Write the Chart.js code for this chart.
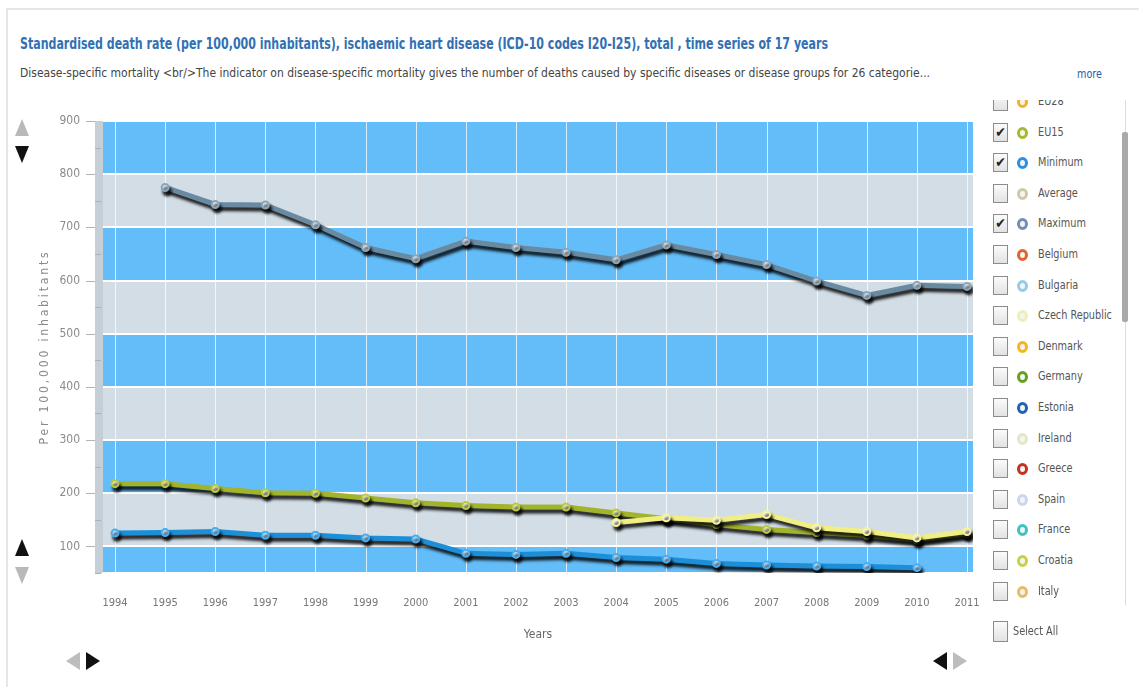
<!DOCTYPE html>
<html>
<head>
<meta charset="utf-8">
<script src="https://cdn.jsdelivr.net/npm/chart.js@4.4.1/dist/chart.umd.min.js"></script>
<style>
  body {
    margin: 0;
    width: 1139px;
    height: 687px;
    position: relative;
    overflow: hidden;
    background: #fff;
    font-family: "Liberation Sans Narrow", "DejaVu Sans Condensed", Arial, sans-serif;
  }
  .frame {
    position: absolute;
    left: 6px;
    top: 8px;
    right: 0;
    bottom: 0;
    border-top: 2px solid #e6e6e6;
    border-left: 2px solid #e6e6e6;
  }
  .fit {
    position: absolute;
    white-space: nowrap;
    transform-origin: 0 50%;
  }
  #title { left: 20px; top: 35px; font-size: 15px; font-weight: bold; color: #3270b4; }
  #subtitle { left: 20px; top: 66px; font-size: 12px; color: #444; }
  #more { left: 1077px; top: 67px; font-size: 12px; color: #2a5db0; }
  canvas { position: absolute; left: 0; top: 100px; }

  .tri { position: absolute; width: 0; height: 0; }
  .up { border-left: 7px solid transparent; border-right: 7px solid transparent; border-bottom: 17px solid; }
  .down { border-left: 7px solid transparent; border-right: 7px solid transparent; border-top: 17px solid; }
  .left { border-top: 9px solid transparent; border-bottom: 9px solid transparent; border-right: 14px solid; }
  .right { border-top: 9px solid transparent; border-bottom: 9px solid transparent; border-left: 14px solid; }

  #legend {
    position: absolute;
    left: 985px;
    top: 100px;
    width: 136px;
    height: 505px;
    overflow: hidden;
  }
  .item { position: absolute; left: 0; height: 30px; width: 136px; }
  .box {
    position: absolute;
    left: 8px;
    top: 6px;
    width: 13px;
    height: 17px;
    border: 1px solid #8c8c8c;
    background: linear-gradient(#fbfbfb, #e2e2e2);
    font-size: 14px;
    line-height: 17px;
    text-align: center;
    color: #222;
  }
  .dot {
    position: absolute;
    left: 32px;
    top: 10px;
    width: 5px;
    height: 6px;
    border-radius: 50%;
    border: 3px solid;
    background: #f4f4f4;
  }
  .name { position: absolute; left: 53px; top: 8px; font-size: 12px; color: #555; white-space: nowrap; transform-origin: 0 50%; transform: scaleX(0.9); }
  #track { position: absolute; left: 1125px; top: 100px; width: 1px; height: 505px; background: #dcdcdc; }
  #thumb { position: absolute; left: 1122px; top: 132px; width: 6px; height: 190px; background: #a9a9a9; border-radius: 2px; }
  #selectAll { position: absolute; left: 985px; top: 616px; width: 140px; height: 30px; }
  #selectAll .box { top: 5px; height: 19px; }
  #selectAll .name { left: 28px; top: 8px; }
</style>
</head>
<body>
<div class="frame"></div>
<div id="title" class="fit" data-w="808">Standardised death rate (per 100,000 inhabitants), ischaemic heart disease (ICD-10 codes I20-I25), total , time series of 17 years</div>
<div id="subtitle" class="fit" data-w="910">Disease-specific mortality &lt;br/&gt;The indicator on disease-specific mortality gives the number of deaths caused by specific diseases or disease groups for 26 categorie...</div>
<div id="more" class="fit" data-w="25">more</div>

<canvas id="deathChart" width="985" height="560"></canvas>

<div class="tri up" style="left:15px;top:119px;color:#b9b9b9"></div>
<div class="tri down" style="left:15px;top:146px;color:#111"></div>
<div class="tri up" style="left:15px;top:539px;color:#111"></div>
<div class="tri down" style="left:15px;top:567px;color:#b9b9b9"></div>
<div class="tri left" style="left:66px;top:652px;color:#bdbdbd"></div>
<div class="tri right" style="left:86px;top:652px;color:#111"></div>
<div class="tri left" style="left:933px;top:652px;color:#111"></div>
<div class="tri right" style="left:953px;top:652px;color:#bdbdbd"></div>

<div id="legend"></div>
<div id="track"></div>
<div id="thumb"></div>
<div id="selectAll"><span class="box"></span><span class="name">Select All</span></div>

<script>
// data
const years = [1994, 1995, 1996, 1997, 1998, 1999, 2000, 2001, 2002,
  2003, 2004, 2005, 2006, 2007, 2008, 2009, 2010, 2011];

const eu28Values = [null, null, null, null, null, null, null, null, null,
  null, 145, 154, 149, 160, 135, 128, 116, 128];
const eu15Values = [218, 218, 209, 201, 200, 191, 182, 177, 174,
  174, 163, 152, 141, 132, 126, 121, 112, 124];
const minimumValues = [125, 126, 128, 121, 121, 116, 114, 87, 85,
  87, 79, 76, 68, 65, 63, 62, 60, null];
const maximumValues = [null, 775, 743, 742, 705, 662, 641, 674, 662,
  653, 639, 667, 649, 630, 599, 572, 591, 589];

const yTicks = [100, 200, 300, 400, 500, 600, 700, 800, 900];
const yMin = 50;
const yMax = 900;
const yTitle = "Per 100,000 inhabitants";

const legendNames = ["EU28", "EU15", "Minimum", "Average", "Maximum", "Belgium",
  "Bulgaria", "Czech Republic", "Denmark", "Germany", "Estonia", "Ireland",
  "Greece", "Spain", "France", "Croatia", "Italy"];
const legendColors = ["#efb22e", "#a6b92c", "#2a8fe0", "#cfc9a8", "#6f8fb3", "#e2622e",
  "#93cbe9", "#eeefb8", "#f3b61e", "#62a21d", "#1f62b4", "#e0e8c6",
  "#c43122", "#cdd3f2", "#3fc1c4", "#c5d244", "#e9bb61"];
const checkedNames = ["EU15", "Minimum", "Maximum"];

const fontFamily = '"Liberation Sans Narrow", "DejaVu Sans Condensed", Arial, sans-serif';
const blueBand = "#63bdf9";
const greyBand = "#d2dde5";

// squeeze header texts to the widths they have in the picture
document.querySelectorAll(".fit").forEach((el) => {
  const w = el.getBoundingClientRect().width;
  el.style.transform = `scaleX(${el.dataset.w / w})`;
});

// legend list, scrolled so the first entry is cut at the top
const legend = document.querySelector("#legend");
legendNames.forEach((name, i) => {
  const item = document.createElement("div");
  item.className = "item";
  item.style.top = (-14 + i * 30.6) + "px";
  item.innerHTML =
    `<span class="box">${checkedNames.includes(name) ? "&#10004;" : ""}</span>` +
    `<span class="dot" style="border-color:${legendColors[i]}"></span>` +
    `<span class="name">${name}</span>`;
  legend.appendChild(item);
});

function points(values) {
  return years.map((yr, i) => ({ x: yr, y: values[i] }));
}

function lineSet(label, values, color, pointFill, pointEdge) {
  return {
    label: label,
    data: points(values),
    borderColor: color,
    borderWidth: 5,
    pointRadius: 3.5,
    pointBackgroundColor: pointFill,
    pointBorderColor: pointEdge,
    pointBorderWidth: 2,
    tension: 0,
    spanGaps: false,
  };
}

// striped background, white grid, left strip
const bandsPlugin = {
  id: "bands",
  beforeDatasetsDraw(chart) {
    const { ctx, chartArea: a, scales: { x, y } } = chart;
    ctx.save();
    ctx.fillStyle = greyBand;
    ctx.fillRect(a.left, a.top, a.right - a.left, a.bottom - a.top);
    ctx.fillStyle = blueBand;
    yTicks.forEach((v) => {
      if ((v / 100) % 2 === 1) {
        const top = y.getPixelForValue(v);
        const bottom = y.getPixelForValue(Math.max(v - 100, yMin));
        ctx.fillRect(a.left, top, a.right - a.left, bottom - top);
      }
    });

    // vertical year lines
    ctx.strokeStyle = "rgba(255,255,255,0.75)";
    ctx.lineWidth = 1;
    years.forEach((yr) => {
      const px = Math.round(x.getPixelForValue(yr)) + 0.5;
      ctx.beginPath();
      ctx.moveTo(px, a.top);
      ctx.lineTo(px, a.bottom);
      ctx.stroke();
    });

    // horizontal lines
    ctx.strokeStyle = "#ffffff";
    ctx.lineWidth = 2;
    yTicks.forEach((v) => {
      const py = Math.round(y.getPixelForValue(v));
      ctx.beginPath();
      ctx.moveTo(a.left, py);
      ctx.lineTo(a.right, py);
      ctx.stroke();
    });
    ctx.beginPath();
    ctx.moveTo(a.left, a.bottom);
    ctx.lineTo(a.right, a.bottom);
    ctx.stroke();

    // grey strip left of the plot with tick marks
    ctx.fillStyle = "#c6ced6";
    ctx.fillRect(a.left - 8, a.top, 8, a.bottom - a.top);
    ctx.strokeStyle = "#b3b3b3";
    ctx.lineWidth = 1;
    yTicks.forEach((v) => {
      const py = Math.round(y.getPixelForValue(v)) + 0.5;
      ctx.beginPath();
      ctx.moveTo(a.left - 17, py);
      ctx.lineTo(a.left - 8, py);
      ctx.stroke();
      const pm = Math.round(y.getPixelForValue(v - 50)) + 0.5;
      ctx.strokeStyle = "#a9b1b9";
      ctx.beginPath();
      ctx.moveTo(a.left - 8, pm);
      ctx.lineTo(a.left - 2, pm);
      ctx.stroke();
      ctx.strokeStyle = "#b3b3b3";
    });
    ctx.restore();
  },
  afterDraw(chart) {
    // spaced-out y axis title
    const { ctx, chartArea: a } = chart;
    ctx.save();
    ctx.font = "12px " + fontFamily;
    const plain = ctx.measureText(yTitle).width;
    const spacing = Math.max(0, (195 - plain) / yTitle.length);
    ctx.letterSpacing = spacing.toFixed(2) + "px";
    ctx.translate(45, (a.top + a.bottom) / 2);
    ctx.rotate(-Math.PI / 2);
    ctx.fillStyle = "#8a8a8a";
    ctx.textAlign = "center";
    ctx.textBaseline = "middle";
    ctx.fillText(yTitle, 0, 0);
    ctx.restore();
  },
};

// dark drop shadow under each line
const shadowPlugin = {
  id: "lineShadow",
  beforeDatasetDraw(chart) {
    const ctx = chart.ctx;
    ctx.save();
    ctx.shadowColor = "rgba(0,0,0,0.85)";
    ctx.shadowOffsetX = 2;
    ctx.shadowOffsetY = 4;
    ctx.shadowBlur = 3;
  },
  afterDatasetDraw(chart) {
    chart.ctx.restore();
  },
};

const deathChart = new Chart(document.querySelector("#deathChart"), {
  type: "line",
  data: {
    datasets: [
      lineSet("EU28", eu28Values, "#f1ef83", "#fffff2", "#f6f39a"),
      lineSet("EU15", eu15Values, "#a2b42c", "#eef3c4", "#b9c944"),
      lineSet("Minimum", minimumValues, "#1d8fd8", "#c2e7ff", "#47acf0"),
      lineSet("Maximum", maximumValues, "#6a8aa2", "#e4edf3", "#8ba6ba"),
    ],
  },
  options: {
    responsive: false,
    animation: false,
    layout: { padding: { top: 21, right: 12, left: 0, bottom: 0 } },
    plugins: {
      legend: { display: false },
      tooltip: { enabled: false },
    },
    scales: {
      x: {
        type: "linear",
        min: 1993.76,
        max: 2011.12,
        afterBuildTicks: (axis) => {
          axis.ticks = years.map((v) => ({ value: v }));
        },
        afterFit: (axis) => {
          axis.height = 87;
          axis.paddingLeft = 0;
          axis.paddingRight = 0;
        },
        grid: { display: false, drawTicks: false },
        border: { display: false },
        ticks: {
          callback: (v) => String(v),
          color: "#777",
          font: { family: fontFamily, size: 11 },
          padding: 24,
          maxRotation: 0,
          autoSkip: false,
        },
        title: {
          display: true,
          text: "Years",
          color: "#666",
          font: { family: fontFamily, size: 12 },
          padding: { top: 0, bottom: 18 },
        },
      },
      y: {
        min: yMin,
        max: yMax,
        afterBuildTicks: (axis) => {
          axis.ticks = yTicks.map((v) => ({ value: v }));
        },
        afterFit: (axis) => {
          axis.width = 103;
          axis.paddingTop = 0;
          axis.paddingBottom = 0;
        },
        grid: { display: false, drawTicks: false },
        border: { display: false },
        ticks: {
          color: "#8a8a8a",
          font: { family: fontFamily, size: 12 },
          padding: 23,
        },
      },
    },
  },
  plugins: [bandsPlugin, shadowPlugin],
});
</script>
</body>
</html>
